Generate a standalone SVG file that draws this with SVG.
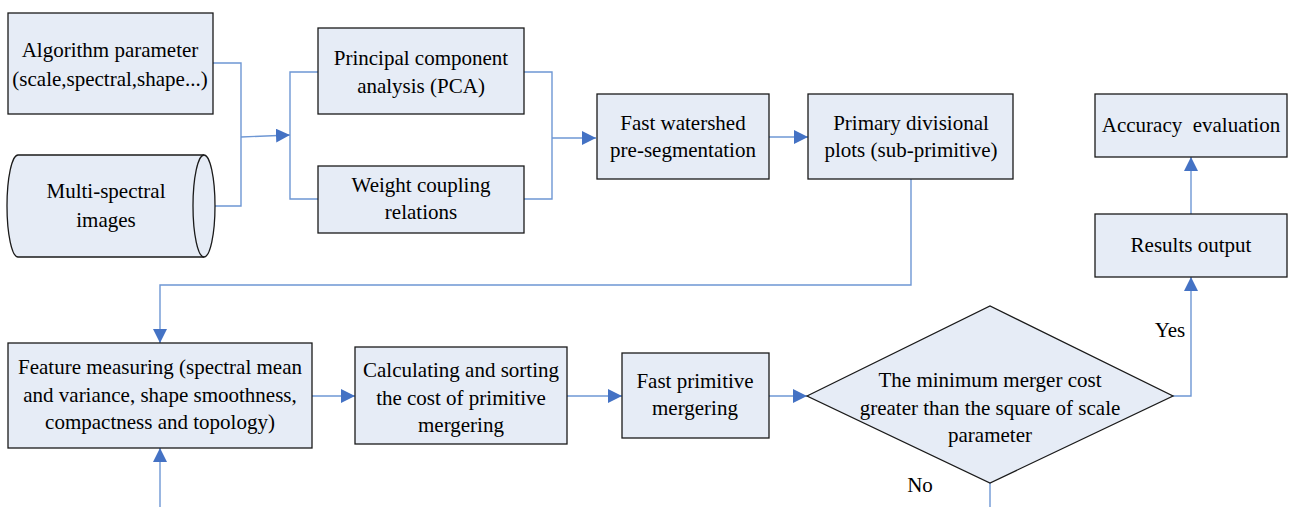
<svg xmlns="http://www.w3.org/2000/svg" width="1290" height="507" viewBox="0 0 1290 507">
  <style>
    .box { fill: #E6ECF6; stroke: #1a1a1a; stroke-width: 1.3; }
    .wire { fill: none; stroke: #6E97D4; stroke-width: 1.4; }
  </style>
  <defs>
    <marker id="arr" markerUnits="userSpaceOnUse" markerWidth="14" markerHeight="14" viewBox="0 0 14 14" refX="14" refY="7" orient="auto">
      <path d="M0,0 L14,7 L0,14 Z" fill="#4472C4"/>
    </marker>
  </defs>

  <rect width="1290" height="507" fill="#fff"/>

  <!-- connectors -->
  <g id="connectors">
    <path class="wire" d="M213,63 H241 V206 H215"/>
    <path class="wire" d="M241,137 L290,135" marker-end="url(#arr)"/>
    <path class="wire" d="M318,72 H290 V199 H318"/>
    <path class="wire" d="M524,72 H552 V199 H524"/>
    <path class="wire" d="M552,138 H596" marker-end="url(#arr)"/>
    <path class="wire" d="M769,137 H808" marker-end="url(#arr)"/>
    <path class="wire" d="M911,179 V285 H160 V343" marker-end="url(#arr)"/>
    <path class="wire" d="M160,507 V448" marker-end="url(#arr)"/>
    <path class="wire" d="M312,396 H355" marker-end="url(#arr)"/>
    <path class="wire" d="M567,396 H622" marker-end="url(#arr)"/>
    <path class="wire" d="M769,396 H807" marker-end="url(#arr)"/>
    <path class="wire" d="M1173,396 H1191 V277" marker-end="url(#arr)"/>
    <path class="wire" d="M1191,214 V157" marker-end="url(#arr)"/>
    <path class="wire" d="M990,483 V507"/>
    <text font-family="'Liberation Serif', serif" font-size="21" text-anchor="middle" x="1170" y="337">Yes</text>
    <text font-family="'Liberation Serif', serif" font-size="21" text-anchor="middle" x="920" y="492">No</text>
  </g>

  <g id="algorithm-parameter">
    <rect class="box" x="8" y="13" width="205" height="101"/>
    <text font-family="'Liberation Serif', serif" font-size="21" text-anchor="middle" x="110" y="57">Algorithm parameter</text>
    <text font-family="'Liberation Serif', serif" font-size="21" text-anchor="middle" x="110" y="86">(scale,spectral,shape...)</text>
  </g>

  <g id="multispectral-images">
    <path class="box" d="M18,155 H204 A11,51 0 0 1 204,257 H18 A11,51 0 0 1 18,155 Z"/>
    <path class="box" d="M204,155 A11,51 0 0 0 204,257" fill="none"/>
    <text font-family="'Liberation Serif', serif" font-size="21" text-anchor="middle" x="106" y="198">Multi-spectral</text>
    <text font-family="'Liberation Serif', serif" font-size="21" text-anchor="middle" x="106" y="227">images</text>
  </g>

  <g id="pca">
    <rect class="box" x="318" y="28" width="206" height="86"/>
    <text font-family="'Liberation Serif', serif" font-size="21" text-anchor="middle" x="421" y="65">Principal component</text>
    <text font-family="'Liberation Serif', serif" font-size="21" text-anchor="middle" x="421" y="93">analysis (PCA)</text>
  </g>

  <g id="weight-coupling">
    <rect class="box" x="318" y="166" width="206" height="67"/>
    <text font-family="'Liberation Serif', serif" font-size="21" text-anchor="middle" x="421" y="192">Weight coupling</text>
    <text font-family="'Liberation Serif', serif" font-size="21" text-anchor="middle" x="421" y="219">relations</text>
  </g>

  <g id="fast-watershed">
    <rect class="box" x="597" y="94" width="172" height="85"/>
    <text font-family="'Liberation Serif', serif" font-size="21" text-anchor="middle" x="683" y="130">Fast watershed</text>
    <text font-family="'Liberation Serif', serif" font-size="21" text-anchor="middle" x="683" y="157">pre-segmentation</text>
  </g>

  <g id="primary-plots">
    <rect class="box" x="808" y="94" width="205" height="85"/>
    <text font-family="'Liberation Serif', serif" font-size="21" text-anchor="middle" x="911" y="130">Primary divisional</text>
    <text font-family="'Liberation Serif', serif" font-size="21" text-anchor="middle" x="911" y="157">plots (sub-primitive)</text>
  </g>

  <g id="accuracy-evaluation">
    <rect class="box" x="1095" y="94" width="192" height="63"/>
    <text font-family="'Liberation Serif', serif" font-size="21" text-anchor="middle" x="1191" y="132" xml:space="preserve">Accuracy  evaluation</text>
  </g>

  <g id="results-output">
    <rect class="box" x="1095" y="214" width="192" height="63"/>
    <text font-family="'Liberation Serif', serif" font-size="21" text-anchor="middle" x="1191" y="252">Results output</text>
  </g>

  <g id="feature-measuring">
    <rect class="box" x="8" y="343" width="304" height="105"/>
    <text font-family="'Liberation Serif', serif" font-size="21" text-anchor="middle" x="160" y="374">Feature measuring (spectral mean</text>
    <text font-family="'Liberation Serif', serif" font-size="21" text-anchor="middle" x="160" y="402">and variance, shape smoothness,</text>
    <text font-family="'Liberation Serif', serif" font-size="21" text-anchor="middle" x="160" y="429">compactness and topology)</text>
  </g>

  <g id="cost-sorting">
    <rect class="box" x="355" y="347" width="212" height="97"/>
    <text font-family="'Liberation Serif', serif" font-size="21" text-anchor="middle" x="461" y="377">Calculating and sorting</text>
    <text font-family="'Liberation Serif', serif" font-size="21" text-anchor="middle" x="461" y="405">the cost of primitive</text>
    <text font-family="'Liberation Serif', serif" font-size="21" text-anchor="middle" x="461" y="432">mergering</text>
  </g>

  <g id="primitive-merging">
    <rect class="box" x="622" y="353" width="147" height="85"/>
    <text font-family="'Liberation Serif', serif" font-size="21" text-anchor="middle" x="695" y="388">Fast primitive</text>
    <text font-family="'Liberation Serif', serif" font-size="21" text-anchor="middle" x="695" y="415">mergering</text>
  </g>

  <g id="merge-decision">
    <path class="box" d="M807,396 L990,306 L1173,396 L990,483 Z"/>
    <text font-family="'Liberation Serif', serif" font-size="21" text-anchor="middle" x="990" y="387">The minimum merger cost</text>
    <text font-family="'Liberation Serif', serif" font-size="21" text-anchor="middle" x="990" y="415">greater than the square of scale</text>
    <text font-family="'Liberation Serif', serif" font-size="21" text-anchor="middle" x="990" y="442">parameter</text>
  </g>
</svg>
